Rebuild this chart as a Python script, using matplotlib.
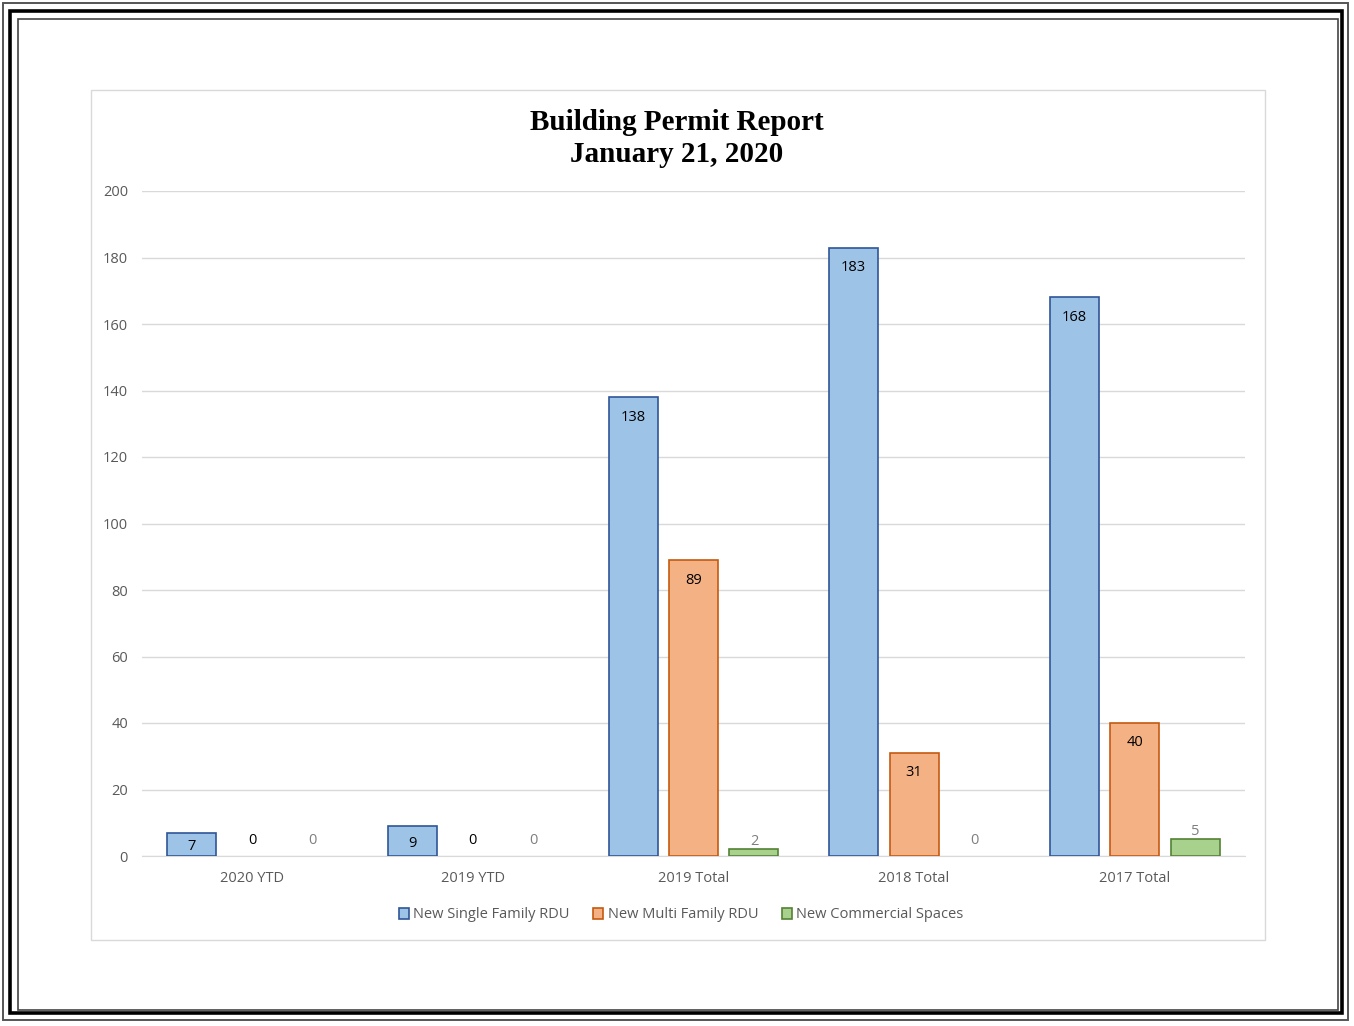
import numpy as np
import matplotlib.pyplot as plt
from matplotlib.patches import Rectangle, Patch

categories = ['2020 YTD', '2019 YTD', '2019 Total', '2018 Total', '2017 Total']
single_family = [7, 9, 138, 183, 168]
multi_family = [0, 0, 89, 31, 40]
commercial = [0, 0, 2, 0, 5]
series_names = ['New Single Family RDU', 'New Multi Family RDU', 'New Commercial Spaces']

W, H = 1354, 1026
fig = plt.figure(figsize=(W / 100, H / 100), dpi=100)

# page borders
def frame(x0, y0, x1, y1, color, lw):
    fig.add_artist(Rectangle((x0 / W, 1 - y1 / H), (x1 - x0) / W, (y1 - y0) / H,
                             transform=fig.transFigure, fill=False,
                             edgecolor=color, linewidth=lw))

frame(2.5, 2.5, 1348, 1020, '#555555', 1.4)
frame(10, 11, 1342, 1013, 'black', 2.6)
frame(17.5, 19, 1338, 1010, '#444444', 1.2)
frame(91, 90, 1265, 940, '#d9d9d9', 1.0)

# plot area
px0, px1, py0, py1 = 142, 1245, 191, 856
ax = fig.add_axes([px0 / W, 1 - py1 / H, (px1 - px0) / W, (py1 - py0) / H])

x = np.arange(len(categories))
bw = 0.222
off = 0.274
tick_font = 'Open Sans'
px_per_unit = (py1 - py0) / 200

styles = [('#9dc3e6', '#2f5597'), ('#f4b183', '#c55a11'), ('#a9d18e', '#548235')]
data = [single_family, multi_family, commercial]
handles = []
for i, (vals, (fc, ec), name) in enumerate(zip(data, styles, series_names)):
    xs = x + (i - 1) * off
    lws = [1.2 if v > 0 else 0 for v in vals]
    ax.bar(xs, vals, width=bw, color=fc, edgecolor=ec, linewidth=lws, zorder=3)
    handles.append(Patch(facecolor=fc, edgecolor=ec, linewidth=1.2, label=name))
    for xi, v in zip(xs, vals):
        if v == 0:
            dy, color = 15, ('black' if i < 2 else '#7f7f7f')
        elif i < 2:
            dy, color = -min(20, v * px_per_unit / 2 + 2), 'black'
        else:
            dy, color = 8, '#7f7f7f'
        ax.annotate(str(v), (xi, v), xytext=(0, dy * 0.72), textcoords='offset points',
                    ha='center', va='center', fontsize=10.5, color=color,
                    family=tick_font, zorder=4)

ax.set_xlim(-0.5, len(categories) - 0.5)
ax.set_ylim(0, 200)
ax.set_yticks(range(0, 201, 20))
ax.set_xticks(x)
ax.set_xticklabels(categories)
ax.grid(axis='y', color='#d9d9d9', linewidth=1.0, zorder=0)
for s in ['top', 'right', 'left']:
    ax.spines[s].set_visible(False)
ax.spines['bottom'].set_color('#d9d9d9')
ax.tick_params(axis='both', length=0, labelsize=10.5, labelcolor='#595959')
ax.tick_params(axis='y', pad=10)
ax.tick_params(axis='x', pad=11)
for lab in ax.get_xticklabels() + ax.get_yticklabels():
    lab.set_family(tick_font)

fig.text(0.5, 1 - 122 / H, 'Building Permit Report', ha='center', va='center',
         fontsize=21, fontweight='bold', family='Liberation Serif')
fig.text(0.5, 1 - 155 / H, 'January 21, 2020', ha='center', va='center',
         fontsize=21, fontweight='bold', family='Liberation Serif')

leg = ax.legend(handles=handles, loc='center', bbox_to_anchor=(681 / W, 1 - 915 / H),
                bbox_transform=fig.transFigure, ncol=3, frameon=False,
                prop={'family': tick_font, 'size': 10.5}, handlelength=0.7, handleheight=0.7,
                handletextpad=0.3, columnspacing=1.6)
for t in leg.get_texts():
    t.set_color('#595959')

fig.savefig('out.png', dpi=100)
